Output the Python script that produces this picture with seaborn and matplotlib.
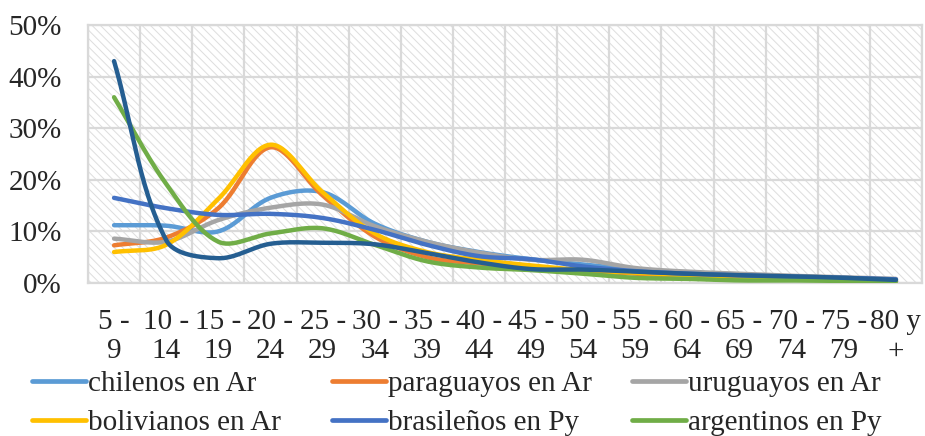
import numpy as np
import pandas as pd
import matplotlib
matplotlib.use("Agg")
import matplotlib.pyplot as plt
from matplotlib.patches import Rectangle
from matplotlib.lines import Line2D
import seaborn as sns

# ── Data (% of each group by age bracket) ─────────────────────────────────────
age_groups = ["5 -\n9", "10 -\n14", "15 -\n19", "20 -\n24", "25 -\n29", "30 -\n34",
              "35 -\n39", "40 -\n44", "45 -\n49", "50 -\n54", "55 -\n59", "60 -\n64",
              "65 -\n69", "70 -\n74", "75 -\n79", "80 y\n+"]

chilenos_ar   = [11.2, 11.1, 10.0, 16.5, 17.6, 11.5, 8.0, 6.0, 4.6, 3.6, 2.6, 2.0, 1.6, 1.3, 1.0, 0.6]
paraguayos_ar = [7.3, 8.8, 14.5, 26.3, 17.0, 9.0, 5.0, 3.8, 3.0, 2.4, 1.8, 1.3, 1.0, 0.8, 0.6, 0.4]
uruguayos_ar  = [8.6, 8.0, 12.2, 14.6, 15.2, 11.0, 8.0, 5.9, 4.5, 4.5, 2.9, 2.2, 1.8, 1.4, 1.1, 0.8]
bolivianos_ar = [6.0, 7.4, 16.3, 26.8, 17.6, 9.6, 6.0, 4.5, 3.4, 2.5, 2.0, 1.5, 1.0, 0.8, 0.7, 0.5]
brasilenos_py = [16.5, 14.5, 13.2, 13.4, 12.6, 10.3, 7.4, 5.2, 4.6, 3.2, 2.3, 1.8, 1.5, 1.2, 1.0, 0.7]
argentinos_py = [36.0, 19.2, 8.0, 9.6, 10.6, 7.4, 4.2, 3.0, 2.5, 1.8, 1.0, 0.8, 0.5, 0.5, 0.4, 0.3]
serie_7       = [43.0, 8.3, 4.8, 7.6, 7.8, 7.5, 5.8, 4.0, 2.7, 2.6, 2.2, 1.8, 1.5, 1.3, 1.0, 0.6]

series = [
    ("chilenos en Ar",   chilenos_ar,   "#5B9BD5"),
    ("paraguayos en Ar", paraguayos_ar, "#ED7D31"),
    ("uruguayos en Ar",  uruguayos_ar,  "#A5A5A5"),
    ("bolivianos en Ar", bolivianos_ar, "#FFC000"),
    ("brasileños en Py", brasilenos_py, "#4472C4"),
    ("argentinos en Py", argentinos_py, "#70AD47"),
    (None,               serie_7,       "#255E91"),
]

X_PX, Y_PX = 52.0, 5.16   # screen pixels per category / per percent point


def smooth(values, n=30):
    """Excel-like smoothed line: bezier through every point, handles scaled by
    the on-screen length of the neighbouring segments."""
    pts = np.column_stack([np.arange(len(values)) * X_PX,
                           np.asarray(values, float) * Y_PX])
    ext = np.vstack([pts[0], pts, pts[-1]])
    t = np.linspace(0, 1, n, endpoint=False)[:, None]
    out = []
    for i in range(len(pts) - 1):
        p0, p1, p2, p3 = ext[i], ext[i + 1], ext[i + 2], ext[i + 3]
        d01 = np.hypot(*(p1 - p0)); d12 = np.hypot(*(p2 - p1)); d23 = np.hypot(*(p3 - p2))
        a = d12 / (d01 + d12) if d01 + d12 else 0
        b = d12 / (d12 + d23) if d12 + d23 else 0
        c1 = p1 + (p2 - p0) * a / 3
        c2 = p2 - (p3 - p1) * b / 3
        out.append((1 - t) ** 3 * p1 + 3 * (1 - t) ** 2 * t * c1
                   + 3 * (1 - t) * t ** 2 * c2 + t ** 3 * p2)
    out.append(pts[-1:])
    xy = np.vstack(out)
    return xy[:, 0] / X_PX, xy[:, 1] / Y_PX


# ── Style ──────────────────────────────────────────────────────────────────────
sns.set_style("white")
plt.rcParams["font.family"] = ["Liberation Serif", "DejaVu Serif"]
plt.rcParams["hatch.linewidth"] = 0.7
FS = 21
GRID = "#d9d9d9"

fig = plt.figure(figsize=(9.25, 4.36), dpi=100)
ax = fig.add_axes([88 / 925, 1 - 283 / 436, (922 - 88) / 925, (283 - 25) / 436])

# hatched plot area
ax.add_patch(Rectangle((0, 0), 1, 1, transform=ax.transAxes, facecolor="none",
                       edgecolor="#dddddd", hatch="\\\\\\\\", lw=0, zorder=0))

for label, vals, color in series:
    sx, sy = smooth(vals)
    df = pd.DataFrame({"x": sx, "y": sy})
    sns.lineplot(data=df, x="x", y="y", ax=ax, color=color, lw=3.2,
                 sort=False, estimator=None, legend=False, zorder=3)

ax.set_xlim(-0.5, len(age_groups) - 0.5)
ax.set_ylim(0, 50)
ax.set_xticks(range(len(age_groups)))
ax.set_xticklabels(age_groups, fontsize=FS, linespacing=1.15)
ax.set_yticks(range(0, 51, 10))
ax.set_yticklabels([f"{v}%" for v in range(0, 51, 10)], fontsize=FS)
ax.set_xticks(np.arange(-0.5, len(age_groups), 0.5), minor=True)
ax.tick_params(axis="both", which="both", length=0)
ax.tick_params(axis="y", pad=19)
ax.tick_params(axis="x", pad=19)
ax.grid(True, axis="y", which="major", color=GRID, lw=1.6, zorder=1)
ax.grid(True, axis="x", which="minor", color=GRID, lw=1.6, zorder=1)
ax.set_axisbelow(True)
ax.set_xlabel("")
ax.set_ylabel("")
for s in ax.spines.values():
    s.set_color(GRID)
    s.set_linewidth(1.6)

# ── Legend: three columns, two rows ───────────────────────────────────────────
handles = [Line2D([], [], color=c, lw=3.4) for lbl, _, c in series if lbl]
labels = [lbl for lbl, _, _ in series if lbl]
col_x = [32, 332, 632]
for c in range(3):
    fig.legend([handles[c], handles[c + 3]], [labels[c], labels[c + 3]],
               loc="upper left", bbox_to_anchor=(col_x[c] / 925, 1 - 371 / 436),
               frameon=False, fontsize=FS, handlelength=1.85, handletextpad=0.08,
               borderpad=0, borderaxespad=0, labelspacing=0.42)

fig.savefig("out.png", dpi=100)
